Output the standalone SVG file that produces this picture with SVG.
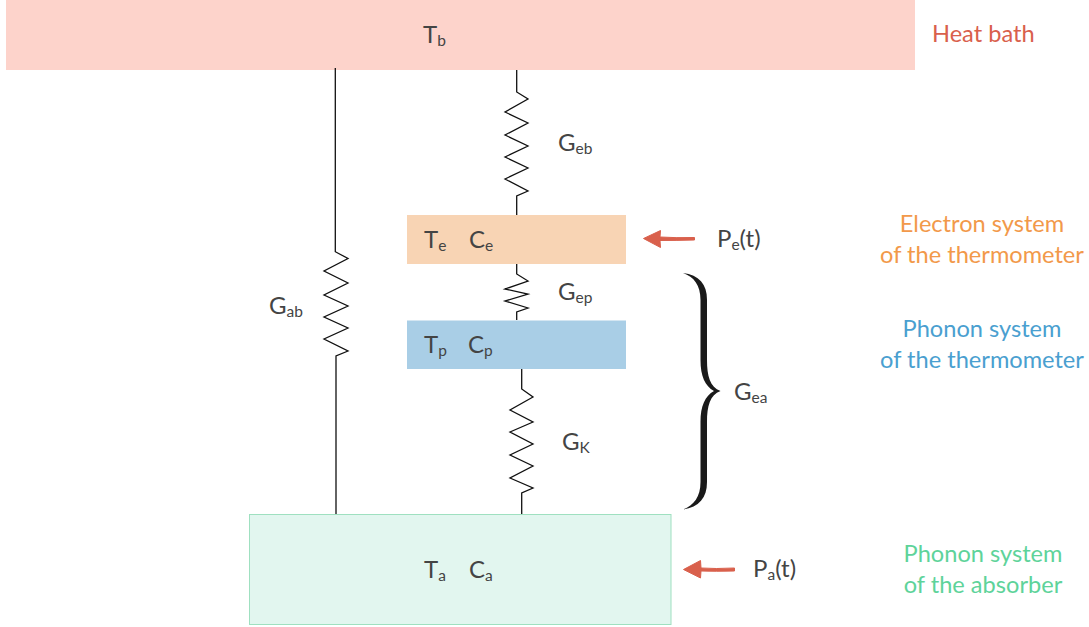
<svg xmlns="http://www.w3.org/2000/svg" width="1089" height="627" viewBox="0 0 1089 627">
<style>
text{font-family:"Lato","Noto Sans",sans-serif;font-size:24px;fill:#444}
.s{font-size:15.500px}
.l{font-size:23.600px}
.c{text-anchor:middle}
.w{fill:none;stroke:#111;stroke-width:1.3;stroke-linejoin:miter}
.r{fill:#d9604c;stroke:#d9604c;stroke-width:1}
.h{fill:#d9604c}.o{fill:#f2994a}.b{fill:#4a9fd0}.g{fill:#5ed39a}
</style>
<rect width="1089" height="627" fill="#fff"/>
<g id="heat-bath"><rect x="6" y="0" width="909" height="70" fill="#fdd3cb"/><text x="423" y="43">T<tspan class="s" dy="3">b</tspan></text><text class="h l" x="932" y="42">Heat bath</text></g>
<g id="electron-system"><rect x="407" y="215" width="219" height="49" fill="#f8d4b4"/><text x="424" y="248">T<tspan class="s" dy="3">e</tspan></text><text x="469" y="248">C<tspan class="s" dy="3">e</tspan></text><text class="o c l" x="982" y="232">Electron system</text><text class="o c l" x="982" y="263">of the thermometer</text></g>
<g id="phonon-thermometer"><rect x="407" y="320.5" width="219" height="48.5" fill="#a9cee6"/><text x="424" y="353">T<tspan class="s" dy="3">p</tspan></text><text x="468" y="353">C<tspan class="s" dy="3">p</tspan></text><text class="b c l" x="982" y="337">Phonon system</text><text class="b c l" x="982" y="368">of the thermometer</text></g>
<g id="absorber"><rect x="249.5" y="514.5" width="421.500" height="110" fill="#e2f6ef" stroke="#9fe0c0" stroke-width="1"/><text x="424" y="578">T<tspan class="s" dy="3">a</tspan></text><text x="469" y="578">C<tspan class="s" dy="3">a</tspan></text><text class="g c l" x="983" y="562">Phonon system</text><text class="g c l" x="983" y="593">of the absorber</text></g>
<g id="connectors">
<path class="w" d="M335.3 68V251.7L348 258.5 324 271 348 283 324 295 348 306 324 317 348 328 324 339 348 351 336 356V514"/>
<path class="w" d="M516.7 70V92L528 99 505 112 528 123 505 135 528 146 505 157 528 168 505 179 528 191 516.7 196V215"/>
<path class="w" d="M516.7 264V274L528 281 505 289 528 294 505 301 528 308 516.7 312V320"/>
<path class="w" d="M521.7 369V389L533 397 510 410 533 422 510 432 533 444 510 455 533 466 510 478 533 488 521.7 493V514"/>
<path class="r" d="M694.5 237.5Q675 238 660 237L660.5 230.500 643.5 238.5 660.5 247.5 660 240.500Q675 240.500 694.5 240Z"/>
<path class="r" d="M734.5 568Q715 569 701 568L700.5 560.5 683.5 569.5 700.5 578 701 571Q715 571.500 734.5 571Z"/>
</g>
<g id="labels">
<text x="269" y="314">G<tspan class="s" dy="3">ab</tspan></text>
<text x="558" y="151">G<tspan class="s" dy="3">eb</tspan></text>
<text x="558" y="300">G<tspan class="s" dy="3">ep</tspan></text>
<text x="562" y="450">G<tspan class="s" dy="3">K</tspan></text>
<text x="734" y="400">G<tspan class="s" dy="3">ea</tspan></text>
<text x="717" y="247">P<tspan class="s" dy="3">e</tspan><tspan dy="-3">(t)</tspan></text>
<text x="753" y="577">P<tspan class="s" dy="3">a</tspan><tspan dy="-3">(t)</tspan></text>
</g>
<g id="brace"><path fill="#1a1a1a" d="M683 273C699 275 707 284 707 300V360C707 376 710 387 720.500 391C710 395 707 406 707 422V482C707 498 699 507 683 509.500C694 505 700.500 497 700.500 482V422C700.500 406 705 396 714 391C705 386 700.500 376 700.500 360V300C700.500 285 694 277 683 273Z"/></g>
</svg>
